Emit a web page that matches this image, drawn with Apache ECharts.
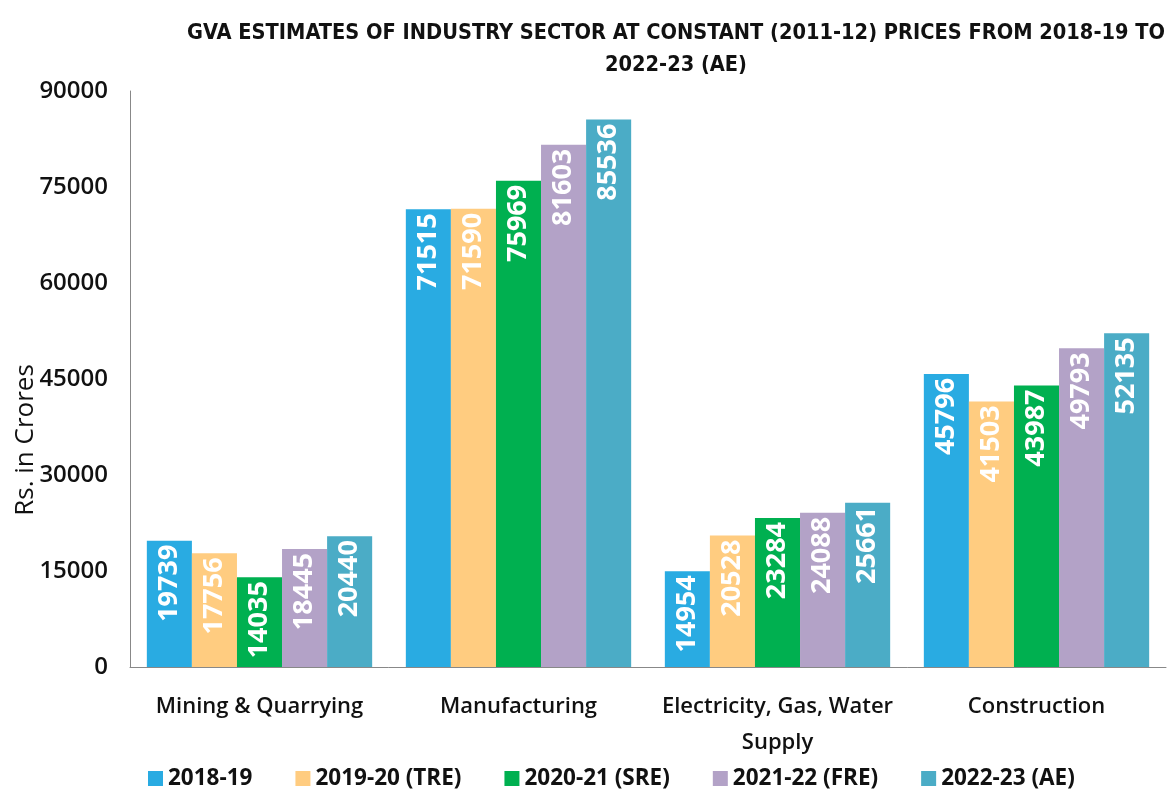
<!DOCTYPE html>
<html>
<head>
<meta charset="utf-8">
<script src="https://cdn.jsdelivr.net/npm/echarts@6/dist/echarts.min.js"></script>
<style>
  html, body { margin: 0; padding: 0; background: #fff; }
  #chart { width: 1169px; height: 789px; }
</style>
</head>
<body>
<div id="chart"></div>
<script>
const sectors = ['Mining & Quarrying', 'Manufacturing', 'Electricity, Gas, Water\nSupply', 'Construction']
const years = ['2018-19', '2019-20 (TRE)', '2020-21 (SRE)', '2021-22 (FRE)', '2022-23 (AE)']
const colors = ['#29ABE2', '#FFCC80', '#00B050', '#B3A2C7', '#4BACC6']

const v2018 = [19739, 71515, 14954, 45796]
const v2019 = [17756, 71590, 20528, 41503]
const v2020 = [14035, 75969, 23284, 43987]
const v2021 = [18445, 81603, 24088, 49793]
const v2022 = [20440, 85536, 25661, 52135]
const seriesValues = [v2018, v2019, v2020, v2021, v2022]

const body = '"Open Sans", "Noto Sans", sans-serif'
const narrow = '"DejaVu Sans Condensed", "Open Sans", sans-serif'

const chart = echarts.init(document.getElementById('chart'))

const legend = {
  left: 143,
  top: 762,
  itemWidth: 15,
  itemHeight: 15,
  itemGap: 43,
  icon: 'rect',
  textStyle: {
    fontFamily: body,
    fontWeight: 'bold',
    fontSize: 22.5,
    color: '#111'
  }
}
legend['data'] = years

const xAxis = {
  type: 'category',
  axisLine: { lineStyle: { color: '#888', width: 1 } },
  axisTick: { show: false },
  axisLabel: {
    fontFamily: body,
    fontSize: 22,
    fontWeight: 600,
    color: '#111',
    lineHeight: 36,
    margin: 22,
    interval: 0
  }
}
xAxis['data'] = sectors

const series = years.map((name, i) => {
  const s = {
    name,
    type: 'bar',
    barGap: '0%',
    barCategoryGap: '13%',
    itemStyle: { color: colors[i] },
    label: {
      show: true,
      position: 'insideTop',
      rotate: 90,
      align: 'right',
      verticalAlign: 'middle',
      distance: 4,
      color: '#fff',
      fontFamily: body,
      fontWeight: 'bold',
      fontSize: 27
    }
  }
  s['data'] = seriesValues[i]
  return s
})

const option = {
  animation: false,
  title: {
    text: 'GVA ESTIMATES OF INDUSTRY SECTOR AT CONSTANT (2011-12) PRICES FROM 2018-19 TO\n2022-23 (AE)',
    left: 671,
    top: 12,
    textAlign: 'center',
    textStyle: {
      fontFamily: narrow,
      fontWeight: 'bold',
      fontSize: 21.6,
      lineHeight: 32,
      color: '#111'
    }
  },
  legend,
  graphic: [{
    type: 'text',
    x: 26,
    y: 440,
    rotation: Math.PI / 2,
    style: {
      text: 'Rs. in Crores',
      fontFamily: body,
      fontSize: 26,
      fill: '#111',
      align: 'center',
      verticalAlign: 'middle'
    }
  }],
  grid: {
    left: 130,
    right: 3,
    top: 91,
    bottom: 122
  },
  xAxis,
  yAxis: {
    type: 'value',
    min: 0,
    max: 90000,
    interval: 15000,
    splitLine: { show: false },
    axisLine: { show: true, lineStyle: { color: '#888', width: 1 } },
    axisTick: { show: false },
    axisLabel: {
      fontFamily: body,
      fontSize: 24,
      fontWeight: 600,
      color: '#111',
      margin: 22,
      formatter: v => String(v)
    }
  },
  series
}

chart.setOption(option)
window.addEventListener('resize', () => chart.resize())
</script>
</body>
</html>
